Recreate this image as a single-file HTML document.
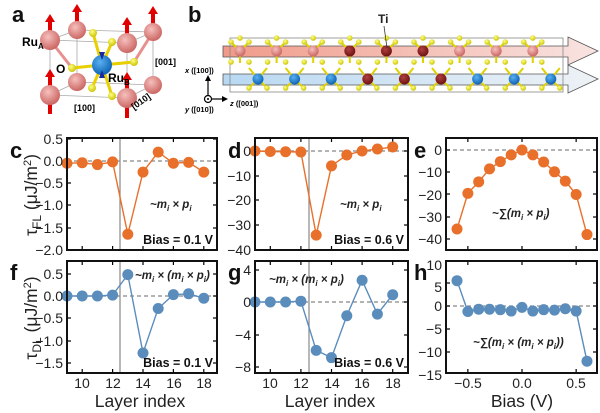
<!DOCTYPE html>
<html><head><meta charset="utf-8">
<style>
html,body{margin:0;padding:0;background:#fff;}
svg{display:block;font-family:"Liberation Sans",Arial,sans-serif;}
.t{font-size:14px;fill:#222;}
.pl{font-size:22px;font-weight:bold;fill:#111;}
.an{font-size:11.5px;font-weight:bold;font-style:italic;fill:#222;}
.bi{font-size:12.5px;font-weight:bold;fill:#111;}
.ax{font-size:17.5px;fill:#222;}
</style></head><body>
<svg id="s" width="600" height="413" viewBox="0 0 600 413" xmlns="http://www.w3.org/2000/svg">
<defs>
<radialGradient id="gp" cx="0.4" cy="0.35" r="0.7"><stop offset="0" stop-color="#f6c0bd"/><stop offset="1" stop-color="#c8605d"/></radialGradient>
<radialGradient id="gb" cx="0.4" cy="0.35" r="0.7"><stop offset="0" stop-color="#5ab0f0"/><stop offset="1" stop-color="#0a5fb0"/></radialGradient>
<radialGradient id="gy" cx="0.4" cy="0.35" r="0.7"><stop offset="0" stop-color="#ffff80"/><stop offset="1" stop-color="#c8c000"/></radialGradient>
<radialGradient id="gd" cx="0.4" cy="0.35" r="0.7"><stop offset="0" stop-color="#b04040"/><stop offset="1" stop-color="#6a0f0f"/></radialGradient>
<linearGradient id="rp" x1="0" x2="1"><stop offset="0" stop-color="#f09a88"/><stop offset="1" stop-color="#f8e4e2"/></linearGradient>
<linearGradient id="rb" x1="0" x2="1"><stop offset="0" stop-color="#b8d8f2"/><stop offset="1" stop-color="#eef2f6"/></linearGradient>
</defs>

<text class="pl" x="12" y="22">a</text>
<text class="pl" x="188" y="22">b</text>
<text class="pl" x="10" y="158">c</text>
<text class="pl" x="228" y="158">d</text>
<text class="pl" x="414" y="158">e</text>
<text class="pl" x="10" y="280">f</text>
<text class="pl" x="228" y="280">g</text>
<text class="pl" x="414" y="280">h</text>

<g stroke="#aaa" stroke-width="0.8" fill="none">
<polygon points="50,40 127,43 127,98 50,95"/>
<polygon points="77,30 153,32 153,85 77,82"/>
<line x1="50" y1="40" x2="77" y2="30"/><line x1="127" y1="43" x2="153" y2="32"/>
<line x1="50" y1="95" x2="77" y2="82"/><line x1="127" y1="98" x2="153" y2="85"/>
</g>
<g stroke="#e8d000" stroke-width="3">
<line x1="102" y1="65" x2="72" y2="68"/><line x1="102" y1="65" x2="134" y2="62"/>
<line x1="102" y1="65" x2="93" y2="33"/><line x1="102" y1="65" x2="112" y2="42"/>
<line x1="102" y1="65" x2="92" y2="88"/><line x1="102" y1="65" x2="112" y2="96"/>
<line x1="50" y1="40" x2="72" y2="68" stroke="#e89090"/><line x1="153" y1="32" x2="134" y2="62" stroke="#e89090"/>
</g>
<g fill="#e00000">
<rect x="48" y="20" width="4" height="12"/><polygon points="45,22 50,14 55,22"/>
<rect x="75" y="10" width="4" height="12"/><polygon points="72,12 77,4 82,12"/>
<rect x="125" y="23" width="4" height="12"/><polygon points="122,25 127,17 132,25"/>
<rect x="151" y="12" width="4" height="12"/><polygon points="148,14 153,6 158,14"/>
<rect x="48" y="75" width="4" height="12"/><polygon points="45,77 50,69 55,77"/>
<rect x="125" y="78" width="4" height="12"/><polygon points="122,80 127,72 132,80"/>
<rect x="48" y="100" width="4" height="14"/><rect x="125" y="104" width="4" height="14"/>
</g>
<g>
<circle cx="77" cy="30" r="9" fill="url(#gp)"/><circle cx="153" cy="32" r="9" fill="url(#gp)"/>
<circle cx="77" cy="82" r="9" fill="url(#gp)"/><circle cx="153" cy="85" r="9" fill="url(#gp)"/>
<circle cx="93" cy="33" r="4" fill="url(#gy)"/><circle cx="112" cy="42" r="4" fill="url(#gy)"/>
<circle cx="72" cy="68" r="4" fill="url(#gy)"/><circle cx="134" cy="62" r="4" fill="url(#gy)"/>
<circle cx="92" cy="88" r="4" fill="url(#gy)"/><circle cx="112" cy="96" r="4" fill="url(#gy)"/>
<circle cx="102" cy="65" r="10" fill="url(#gb)"/>
<polygon points="99,52 105,52 102,60" fill="#1a2aa0"/><polygon points="99,78 105,78 102,70" fill="#1a2aa0"/>
<circle cx="50" cy="40" r="10" fill="url(#gp)"/><circle cx="127" cy="43" r="10" fill="url(#gp)"/>
<circle cx="50" cy="95" r="10" fill="url(#gp)"/><circle cx="127" cy="98" r="10" fill="url(#gp)"/>
</g>
<text x="22" y="46" font-size="12" font-weight="bold">Ru<tspan font-size="8" dy="3">A</tspan></text>
<text x="56" y="73" font-size="12" font-weight="bold">O</text>
<text x="108" y="82" font-size="12" font-weight="bold">Ru<tspan font-size="8" dy="3">B</tspan></text>
<text x="155" y="65" font-size="9" font-weight="bold">[001]</text>
<text x="74" y="111" font-size="9" font-weight="bold">[100]</text>
<text x="0" y="0" font-size="9" font-weight="bold" transform="translate(134,110) rotate(-35)">[010]</text>

<g id="pb"></g>
<text x="378" y="23" font-size="12" font-weight="bold" fill="#222">Ti</text>
<line x1="384" y1="26" x2="387" y2="48" stroke="#333" stroke-width="0.8"/>
<text x="185" y="73" font-size="7.5" font-weight="bold" font-style="italic">x <tspan font-style="normal">([100])</tspan></text>
<line x1="208" y1="96" x2="208" y2="80" stroke="#000" stroke-width="1.2"/><polygon points="205,81 211,81 208,75" fill="#000"/>
<line x1="208" y1="99" x2="223" y2="99" stroke="#000" stroke-width="1.2"/><polygon points="222,96 222,102 228,99" fill="#000"/>
<circle cx="208" cy="99" r="3.5" fill="#fff" stroke="#000" stroke-width="1.2"/><circle cx="208" cy="99" r="1" fill="#000"/>
<text x="230" y="106" font-size="7.5" font-weight="bold" font-style="italic">z <tspan font-style="normal">([001])</tspan></text>
<text x="185" y="112" font-size="7.5" font-weight="bold" font-style="italic">y <tspan font-style="normal">([010])</tspan></text>

<g id="plots"></g>

<g class="t" text-anchor="end">
<text x="63" y="144">0.5</text><text x="63" y="166">0.0</text><text x="63" y="188">−0.5</text><text x="63" y="210">−1.0</text><text x="63" y="233">−1.5</text><text x="63" y="255">−2.0</text>
<text x="251" y="156">0</text><text x="251" y="181">−10</text><text x="251" y="205">−20</text><text x="251" y="230">−30</text><text x="251" y="255">−40</text>
<text x="442" y="155">0</text><text x="442" y="177">−10</text><text x="442" y="200">−20</text><text x="442" y="222">−30</text><text x="442" y="244">−40</text>
<text x="63" y="279">0.5</text><text x="63" y="301">0.0</text><text x="63" y="323">−0.5</text><text x="63" y="346">−1.0</text><text x="63" y="368">−1.5</text>
<text x="251" y="275">4</text><text x="251" y="307">0</text><text x="251" y="340">−4</text><text x="251" y="372">−8</text>
<text x="442" y="270">10</text><text x="442" y="292">5</text><text x="442" y="311">0</text><text x="442" y="334">−5</text><text x="442" y="357">−10</text><text x="442" y="380">−15</text>
</g>
<g class="t" text-anchor="middle">
<text x="82" y="388">10</text><text x="113" y="388">12</text><text x="143" y="388">14</text><text x="174" y="388">16</text><text x="204" y="388">18</text>
<text x="270" y="388">10</text><text x="301" y="388">12</text><text x="332" y="388">14</text><text x="362" y="388">16</text><text x="393" y="388">18</text>
<text x="468" y="388">−0.5</text><text x="522" y="388">0.0</text><text x="576" y="388">0.5</text>
</g>
<g class="ax" text-anchor="middle">
<text x="140" y="407">Layer index</text><text x="330" y="407">Layer index</text><text x="522" y="407">Bias (V)</text>
</g>
<text class="ax" transform="translate(37,195) rotate(-90)" text-anchor="middle">τ<tspan font-size="12" dy="4">FL</tspan><tspan dy="-4"> (μJ/m</tspan><tspan font-size="11" dy="-6">2</tspan><tspan dy="6">)</tspan></text>
<text class="ax" transform="translate(37,318) rotate(-90)" text-anchor="middle">τ<tspan font-size="12" dy="4">DL</tspan><tspan dy="-4"> (μJ/m</tspan><tspan font-size="11" dy="-6">2</tspan><tspan dy="6">)</tspan></text>

<text class="an" x="150" y="208">~m<tspan font-size="8" dy="3">i</tspan><tspan dy="-3"> × p</tspan><tspan font-size="8" dy="3">i</tspan></text>
<text class="an" x="340" y="208">~m<tspan font-size="8" dy="3">i</tspan><tspan dy="-3"> × p</tspan><tspan font-size="8" dy="3">i</tspan></text>
<text class="an" x="492" y="217">~∑(m<tspan font-size="8" dy="3">i</tspan><tspan dy="-3"> × p</tspan><tspan font-size="8" dy="3">i</tspan><tspan dy="-3">)</tspan></text>
<text class="an" x="135" y="279">~m<tspan font-size="8" dy="3">i</tspan><tspan dy="-3"> × (m</tspan><tspan font-size="8" dy="3">i</tspan><tspan dy="-3"> × p</tspan><tspan font-size="8" dy="3">i</tspan><tspan dy="-3">)</tspan></text>
<text class="an" x="269" y="283">~m<tspan font-size="8" dy="3">i</tspan><tspan dy="-3"> × (m</tspan><tspan font-size="8" dy="3">i</tspan><tspan dy="-3"> × p</tspan><tspan font-size="8" dy="3">i</tspan><tspan dy="-3">)</tspan></text>
<text class="an" x="473" y="346">~∑(m<tspan font-size="8" dy="3">i</tspan><tspan dy="-3"> × (m</tspan><tspan font-size="8" dy="3">i</tspan><tspan dy="-3"> × p</tspan><tspan font-size="8" dy="3">i</tspan><tspan dy="-3">))</tspan></text>
<g class="bi" text-anchor="end">
<text x="213" y="244">Bias = 0.1 V</text><text x="404" y="244">Bias = 0.6 V</text>
<text x="213" y="367">Bias = 0.1 V</text><text x="404" y="367">Bias = 0.6 V</text>
</g>
</svg>
<script>
var NS="http://www.w3.org/2000/svg";
function el(p,n,a){var e=document.createElementNS(NS,n);for(var k in a)e.setAttribute(k,a[k]);p.appendChild(e);return e;}
var pb=document.getElementById("pb");
el(pb,"polygon",{points:"223,46 568,46 568,37 598,51 568,65 568,57 223,57",fill:"url(#rp)",stroke:"#555","stroke-width":"0.8"});
el(pb,"polygon",{points:"223,74 568,74 568,65 598,79 568,93 568,85 223,85",fill:"url(#rb)",stroke:"#555","stroke-width":"0.8"});
el(pb,"rect",{x:230,y:38,width:333,height:54,fill:"none",stroke:"#888","stroke-width":"0.8"});
var st=36.6;
for(var i=0;i<9;i++){
 var xt=240+i*st, xb=258+i*st;
 el(pb,"line",{x1:xt,y1:51,x2:xt-9,y2:42,stroke:"#e0d000","stroke-width":2});
 el(pb,"line",{x1:xt,y1:51,x2:xt+9,y2:42,stroke:"#e0d000","stroke-width":2});
 el(pb,"line",{x1:xt,y1:51,x2:xt,y2:63,stroke:"#e0d000","stroke-width":2});
 el(pb,"line",{x1:xb,y1:79,x2:xb-9,y2:68,stroke:"#e0d000","stroke-width":2});
 el(pb,"line",{x1:xb,y1:79,x2:xb+9,y2:68,stroke:"#e0d000","stroke-width":2});
 el(pb,"line",{x1:xb,y1:79,x2:xb-9,y2:88,stroke:"#e0d000","stroke-width":2});
 el(pb,"line",{x1:xb,y1:79,x2:xb+9,y2:88,stroke:"#e0d000","stroke-width":2});
 [[xt-9,42],[xt+9,42],[xt,38],[xt-9,62],[xt+9,62],[xb-9,88],[xb+9,88]].forEach(function(p){el(pb,"circle",{cx:p[0],cy:p[1],r:2.8,fill:"url(#gy)"});});
 var dark=(i>=3&&i<=5);
 el(pb,"circle",{cx:xt,cy:51,r:5.5,fill:dark?"url(#gd)":"url(#gp)"});
 el(pb,"circle",{cx:xb,cy:79,r:5.5,fill:dark?"url(#gd)":"url(#gb)"});
}
var g=document.getElementById("plots");
function panel(box,yt,xt,zeroY,vline,pts,col){
 var x0=box[0],x1=box[1],y0=box[2],y1=box[3];
 el(g,"line",{x1:x0,y1:zeroY,x2:x1,y2:zeroY,stroke:"#888","stroke-width":1.2,"stroke-dasharray":"4,3"});
 if(vline)el(g,"line",{x1:vline,y1:y0,x2:vline,y2:y1,stroke:"#888","stroke-width":1.2});
 yt.forEach(function(y){el(g,"line",{x1:x0,y1:y,x2:x0+4,y2:y,stroke:"#000","stroke-width":1.2});el(g,"line",{x1:x1,y1:y,x2:x1-4,y2:y,stroke:"#000","stroke-width":1.2});});
 xt.forEach(function(x){el(g,"line",{x1:x,y1:y0,x2:x,y2:y0+4,stroke:"#000","stroke-width":1.2});el(g,"line",{x1:x,y1:y1,x2:x,y2:y1-4,stroke:"#000","stroke-width":1.2});});
 el(g,"polyline",{points:pts.map(function(p){return p.join(",");}).join(" "),fill:"none",stroke:col,"stroke-width":1.4});
 pts.forEach(function(p){el(g,"circle",{cx:p[0],cy:p[1],r:5.5,fill:col});});
 el(g,"rect",{x:x0,y:y0,width:x1-x0,height:y1-y0,fill:"none",stroke:"#111","stroke-width":2});
}
var O="#e8702a",B="#5a8cbc";
function L(b,s){return function(l){return b+(l-9)*s;};}
var Xc=L(67,15.2),Xd=L(255,15.3);function Xe(b){return 522+b*108.3;}
var lay=[9,10,11,12,13,14,15,16,17,18],bias=[-0.6,-0.5,-0.4,-0.3,-0.2,-0.1,0,0.1,0.2,0.3,0.4,0.5,0.6];
var cX=[10,12,14,16,18].map(Xc),dX=[10,12,14,16,18].map(Xd),eX=[-0.5,0,0.5].map(Xe);
var cv=[-0.05,-0.04,-0.08,-0.02,-1.65,-0.25,0.2,-0.05,-0.03,-0.25];
panel([67,217,138,250],[139,161,183,205,228,250],cX,161,120,lay.map(function(l,i){return [Xc(l),161-cv[i]*44.4];}),O);
var dv=[0,-0.2,-0.3,-0.4,-34,-6,-1.6,0,0.8,1.6];
panel([255,408,138,250],[151,176,200,225,250],dX,151,309,lay.map(function(l,i){return [Xd(l),151-dv[i]*2.475];}),O);
var ev=[-35.5,-19.5,-14.3,-8.5,-5.2,-2.2,0,-2.2,-5.4,-9.8,-14,-20,-38];
panel([446,597,138,250],[150,172,194,217,239],eX,150,0,bias.map(function(b,i){return [Xe(b),150-ev[i]*2.225];}),O);
var fv=[0,0,0,0.02,0.48,-1.28,-0.28,0.03,0.05,-0.05];
panel([67,217,261,373],[274,296,318,341,363],cX,296,120,lay.map(function(l,i){return [Xc(l),296-fv[i]*44.5];}),B);
var gv=[0,0,0,0.1,-6,-6.9,-1.7,2.7,-1.5,0.9];
panel([255,408,261,373],[270,302,335,367],dX,302,309,lay.map(function(l,i){return [Xd(l),302-gv[i]*8.07];}),B);
var hv=[5.5,-1.2,-0.7,-0.7,-0.8,-1.1,-0.3,-1.1,-0.8,-0.9,-0.6,-1.1,-12];
panel([446,597,261,373],[283,306,329,352],eX,306,0,bias.map(function(b,i){return [Xe(b),306-hv[i]*4.6];}),B);
</script>
</body></html>
